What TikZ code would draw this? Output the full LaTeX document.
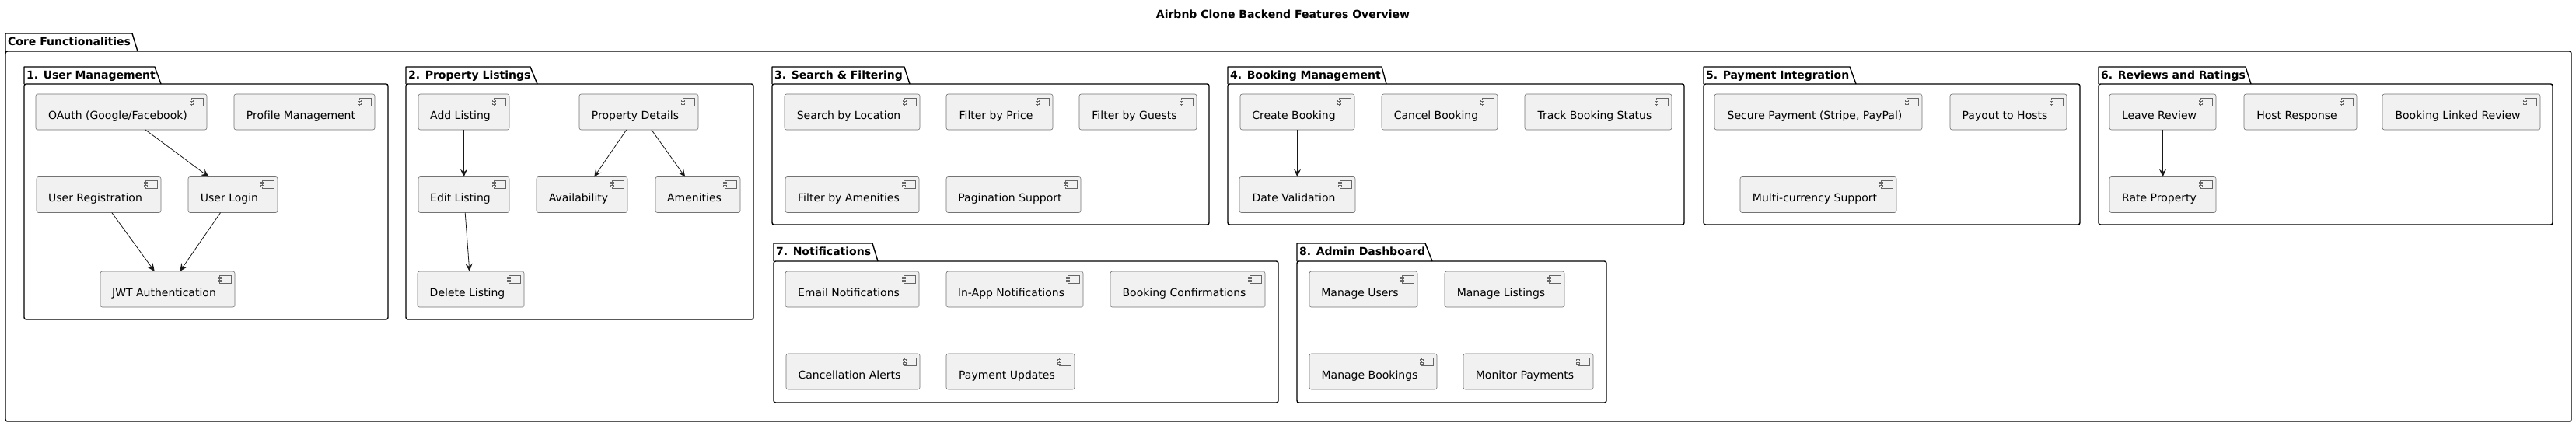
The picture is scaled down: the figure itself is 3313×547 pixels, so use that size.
\documentclass[tikz,border=0pt]{standalone}
\usepackage{fontspec}
\setmainfont{DejaVu Sans}
\usetikzlibrary{arrows.meta}
\definecolor{compfill}{HTML}{F1F1F1}
\definecolor{lineblk}{HTML}{181818}
\tikzset{
  compbox/.style={draw=black!55, fill=compfill, line width=0.6pt, rounded corners=2.5pt,
    inner sep=0pt, outer sep=0pt, minimum height=46pt, font=\fontsize{14}{16}\selectfont},
  iconst/.style={draw=black!60, fill=compfill, line width=0.5pt},
  pkgline/.style={draw=black, line width=1.4pt},
  pkgtitle/.style={anchor=base west, inner sep=0pt, font=\fontsize{14}{16}\selectfont\bfseries},
  arr/.style={draw=lineblk, line width=0.8pt, -{Stealth[length=10pt, width=9pt, inset=4pt]}}
}
\newcommand{\comp}[5]{%
  \node[compbox, minimum width={(#3-#2)*1pt}] (#1) at ({(#2+#3)/2},#4)
    {\raisebox{-9pt}[0pt][0pt]{#5\hspace*{9pt}}};
  \draw[iconst] ([shift={(-20,5)}]#1.north east) rectangle ([shift={(-5,15)}]#1.north east);
  \draw[iconst] ([shift={(-22,7)}]#1.north east) rectangle ([shift={(-18,9)}]#1.north east);
  \draw[iconst] ([shift={(-22,11)}]#1.north east) rectangle ([shift={(-18,13)}]#1.north east);
}
\newcommand{\pkg}[9]{% name, L, R, tabTop, bodyTop, bottom, tabR1, tabR2, title
  \draw[pkgline, fill=white, line join=round] (#2,#5) -- (#2,#4) -- (#7,#4) -- (#8,#5);
  \draw[pkgline, rounded corners=2.5pt] (#2,#5) rectangle (#3,#6);
  \node[pkgtitle] (#1) at ({#2+3},{#4+15}) {#9};
}
\begin{document}
\begin{tikzpicture}[x=1pt, y=-1pt]
\useasboundingbox[fill=white] (0,0) rectangle (3313,547);

\node[anchor=base, inner sep=0pt, font=\fontsize{14}{16}\selectfont\bfseries] (title) at (1650,23) {Airbnb Clone Backend Features Overview};

\pkg{core}{7}{3307}{43}{66}{542}{170}{177}{Core Functionalities}
\pkg{pone}{31}{499}{86}{108}{411}{199}{207}{1. User Management}
\pkg{ptwo}{522}{969}{86}{108}{411}{682}{691}{2. Property Listings}
\pkg{pthree}{993}{1555}{86}{108}{289}{1163}{1170}{3. Search \& Filtering}
\pkg{pfour}{1579}{2166}{86}{108}{289}{1777}{1783}{4. Booking Management}
\pkg{pfive}{2191}{2675}{86}{108}{289}{2379}{2387}{5. Payment Integration}
\pkg{psix}{2699}{3283}{86}{108}{289}{2888}{2895}{6. Reviews and Ratings}
\pkg{pseven}{995}{1644}{313}{336}{518}{1122}{1129}{7. Notifications}
\pkg{peight}{1668}{2066}{313}{336}{518}{1833}{1842}{8. Admin Dashboard}

% 1. User Management
\comp{oauth}{46}{266}{144}{OAuth (Google/Facebook)}
\comp{profile}{301}{482}{144}{Profile Management}
\comp{reg}{47}{207}{250.5}{User Registration}
\comp{login}{242}{357}{250.5}{User Login}
\comp{jwt}{129}{302}{372}{JWT Authentication}
% 2. Property Listings
\comp{addl}{538}{655}{144}{Add Listing}
\comp{pdet}{745}{898}{144}{Property Details}
\comp{editl}{538}{655}{250.5}{Edit Listing}
\comp{avail}{690}{807}{250.5}{Availability}
\comp{amen}{843}{952}{250.5}{Amenities}
\comp{dell}{537}{674}{372}{Delete Listing}
% 3. Search & Filtering
\comp{sloc}{1009}{1183}{144}{Search by Location}
\comp{fprice}{1217}{1354}{144}{Filter by Price}
\comp{fguest}{1388}{1539}{144}{Filter by Guests}
\comp{famen}{1010}{1182}{250.5}{Filter by Amenities}
\comp{pag}{1217}{1390}{250.5}{Pagination Support}
% 4. Booking Management
\comp{cbook}{1595}{1742}{144}{Create Booking}
\comp{cancel}{1777}{1926}{144}{Cancel Booking}
\comp{track}{1961}{2150}{144}{Track Booking Status}
\comp{dval}{1594}{1743}{250.5}{Date Validation}
% 5. Payment Integration
\comp{secpay}{2205}{2472}{144}{Secure Payment (Stripe, PayPal)}
\comp{payout}{2508}{2658}{144}{Payout to Hosts}
\comp{multi}{2238}{2439}{250.5}{Multi-currency Support}
% 6. Reviews and Ratings
\comp{leave}{2713}{2850}{144}{Leave Review}
\comp{host}{2886}{3031}{144}{Host Response}
\comp{blr}{3064}{3267}{144}{Booking Linked Review}
\comp{rate}{2713}{2850}{250.5}{Rate Property}
% 7. Notifications
\comp{email}{1010}{1182}{372}{Email Notifications}
\comp{inapp}{1217}{1393}{372}{In-App Notifications}
\comp{bconf}{1428}{1627}{372}{Booking Confirmations}
\comp{calert}{1011}{1183}{478}{Cancellation Alerts}
\comp{payupd}{1217}{1382}{478}{Payment Updates}
% 8. Admin Dashboard
\comp{musers}{1684}{1823}{372}{Manage Users}
\comp{mlist}{1858}{2012}{372}{Manage Listings}
\comp{mbook}{1684}{1848}{478}{Manage Bookings}
\comp{monpay}{1882}{2049}{478}{Monitor Payments}

% connectors
\draw[arr] (oauth) -- (login);
\draw[arr] (reg) -- (jwt);
\draw[arr] (login) -- (jwt);
\draw[arr] (addl) -- (editl);
\draw[arr] (editl) -- (dell);
\draw[arr] (pdet) -- (avail);
\draw[arr] (pdet) -- (amen);
\draw[arr] (cbook) -- (dval);
\draw[arr] (leave) -- (rate);
\end{tikzpicture}
\end{document}
